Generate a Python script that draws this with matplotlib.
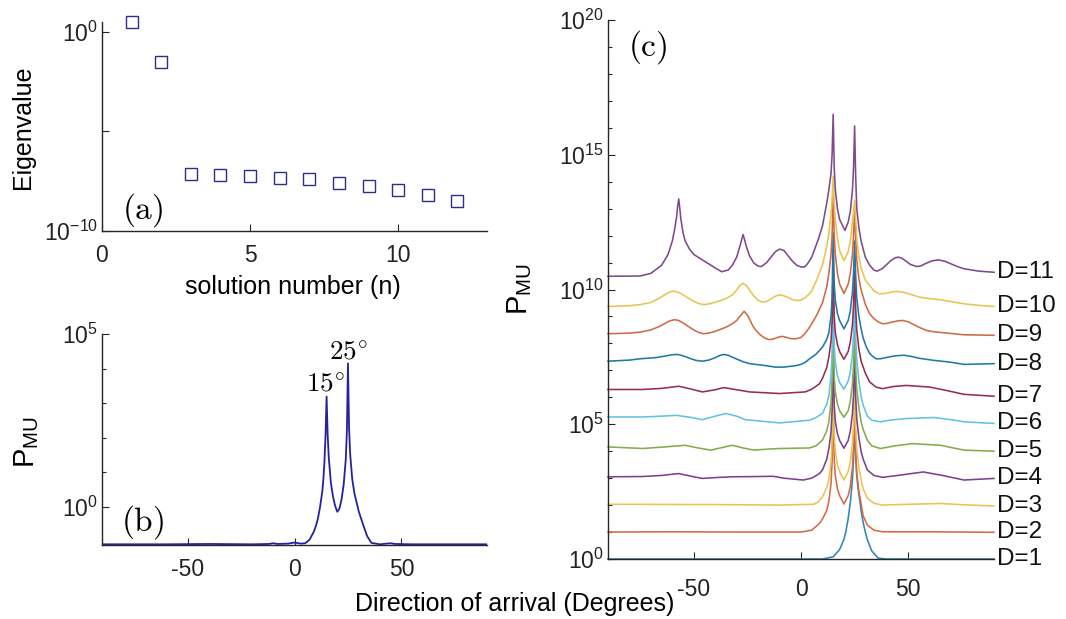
import numpy as np
import matplotlib
matplotlib.use("Agg")
import matplotlib.pyplot as plt
from matplotlib.ticker import FixedLocator, NullFormatter

plt.rcParams['font.family'] = ['Liberation Sans', 'DejaVu Sans']
plt.rcParams['mathtext.fontset'] = 'custom'
plt.rcParams['mathtext.rm'] = 'Liberation Sans'
plt.rcParams['mathtext.it'] = 'Liberation Sans:italic'
plt.rcParams['mathtext.bf'] = 'Liberation Sans:bold'

W, H = 1066, 619
FS = 16.5      # tick labels
FL = 18        # axis labels

# ---------------- data ----------------
# (a) eigenvalues
sol_n = [1, 2, 3, 4, 5, 6, 7, 8, 9, 10, 11, 12]
eig_vals = [3.2, 3.2e-2, 7.4e-8, 6.6e-8, 6.0e-8, 4.5e-8, 4.0e-8, 2.7e-8, 1.8e-8, 1.15e-8, 6.5e-9, 3.2e-9]

# (b) MUSIC spectrum, log10(P_MU)
ang_b = [-90, -60, -40, -20, -12, -10, -8, -3, 0, 3, 5, 7, 9, 10, 11, 12, 13, 13.5, 14, 14.5,
         15, 15.5, 16, 17, 18, 19, 20, 21, 22, 23, 24, 24.5, 25, 25.5, 26, 27, 28, 30, 32, 34,
         36, 40, 43, 45, 47, 55, 70, 90]
logP_b = [-1.08, -1.08, -1.07, -1.08, -1.07, -1.05, -1.07, -1.06, -1.03, -1.06, -1.05, -0.95, -0.72, -0.55, -0.32, 0.02, 0.45, 0.8, 1.3, 2.05,
          3.19, 2.1, 1.45, 0.7, 0.3, 0.03, -0.14, -0.05, 0.22, 0.65, 1.4, 2.2, 4.15, 2.3, 1.55, 0.8, 0.4, -0.12, -0.5, -0.85,
          -1.04, -1.08, -1.06, -1.05, -1.07, -1.08, -1.08, -1.08]

# (c) spectra for D = 1..11, log10(P_MU)
ang_D1 = [-90, 0, 10, 15, 18, 20, 21, 22, 23, 23.5, 24, 24.5, 25, 25.5, 26, 26.5, 27, 28, 29, 30, 31, 33, 36, 40, 90]
logP_D1 = [0, 0, 0, 0.08, 0.35, 0.72, 1.05, 1.5, 2.1, 2.5, 3.0, 3.7, 5.5, 3.8, 3.1, 2.7, 2.4, 1.8, 1.35, 1.0, 0.7, 0.3, 0.03, 0, 0]

ang_D2 = [-90, -60, -30, 0, 5, 8.6, 10, 12, 13, 14, 14.5, 15, 15.5, 16, 17, 18, 20, 22, 23, 24, 24.5, 25, 25.5, 26, 27, 28, 29, 31, 34, 38, 60, 90]
logP_D2 = [1.0, 1.01, 1.0, 1.0, 1.07, 1.32, 1.48, 1.8, 2.15, 2.8, 3.6, 5.8, 3.7, 3.1, 2.6, 2.35, 2.04, 2.35, 2.7, 3.4, 4.1, 5.6, 4.0, 3.2, 2.5, 2.05, 1.6, 1.25, 1.07, 1.01, 1.01, 0.99]

ang_D3 = [-90, -40, -10, 6, 8, 10, 12, 13, 14, 14.5, 15, 15.5, 16, 17, 18, 20, 22, 23, 24, 24.5, 25, 25.5, 26, 27, 28, 29, 31, 34, 38, 50, 65, 76, 90]
logP_D3 = [2.03, 2.02, 2.0, 2.03, 2.12, 2.3, 2.65, 2.95, 3.6, 4.4, 6.8, 4.6, 4.0, 3.5, 3.25, 2.93, 3.25, 3.6, 4.3, 5.0, 6.6, 4.9, 4.1, 3.4, 2.95, 2.6, 2.25, 2.07, 2.0, 2.03, 2.06, 2.01, 1.97]

ang_D4 = [-90, -74, -65, -57, -50, -46, -38, -32, -20, -13, -8, 1, 5, 8.6, 10, 12, 13, 14, 14.5, 15, 15.5, 16, 17, 18, 20, 22, 23, 24, 24.5, 25, 25.5, 26, 27, 28, 29, 31, 34, 38, 47, 57, 66, 76, 90]
logP_D4 = [3.05, 3.06, 3.1, 3.17, 3.05, 2.99, 3.03, 3.05, 3.06, 3.07, 3.0, 2.93, 3.0, 3.17, 3.3, 3.7, 4.1, 4.7, 5.5, 7.8, 5.7, 5.1, 4.65, 4.4, 4.11, 4.4, 4.75, 5.4, 6.1, 7.6, 6.0, 5.2, 4.5, 4.0, 3.7, 3.3, 3.1, 3.03, 3.12, 3.23, 3.1, 2.93, 2.99]

ang_D5 = [-90, -74, -65, -54, -48, -42, -36, -32, -27, -22, -15, -10, 4, 7, 10, 12, 13, 14, 14.5, 15, 15.5, 16, 17, 18, 20, 22, 23, 24, 24.5, 25, 25.5, 26, 27, 28, 29, 31, 33, 37, 44, 52, 65, 76, 90]
logP_D5 = [4.16, 4.1, 4.15, 4.22, 4.12, 4.04, 4.15, 4.22, 4.12, 4.04, 4.08, 4.1, 4.12, 4.2, 4.41, 4.75, 5.1, 5.8, 6.6, 8.8, 6.8, 6.2, 5.75, 5.5, 5.26, 5.5, 5.85, 6.5, 7.2, 8.7, 7.1, 6.3, 5.6, 5.1, 4.8, 4.4, 4.2, 4.1, 4.2, 4.28, 4.22, 4.04, 4.0]

ang_D6 = [-90, -74, -65, -58, -51, -46, -40, -35, -30, -26, -10, 4, 7, 10, 12, 13, 14, 14.5, 15, 15.5, 16, 17, 18, 20, 22, 23, 24, 24.5, 25, 25.5, 26, 27, 28, 29, 31, 33, 37, 42, 49, 62, 70, 76, 90]
logP_D6 = [5.27, 5.27, 5.3, 5.33, 5.25, 5.17, 5.3, 5.4, 5.3, 5.17, 5.05, 5.15, 5.25, 5.4, 5.75, 6.05, 6.8, 7.6, 9.8, 7.9, 7.3, 6.8, 6.55, 6.3, 6.6, 6.95, 7.6, 8.3, 9.7, 8.2, 7.4, 6.6, 6.05, 5.7, 5.3, 5.15, 5.09, 5.16, 5.21, 5.25, 5.17, 5.09, 5.03]

ang_D7 = [-90, -74, -65, -57, -51, -46, -40, -36, -30, -24, -10, 2, 5, 8.6, 10, 12, 13, 14, 14.5, 15, 15.5, 16, 17, 18, 20, 22, 23, 24, 24.5, 25, 25.5, 26, 27, 28, 30, 32, 35, 38, 43, 49, 60, 68, 76, 90]
logP_D7 = [6.29, 6.29, 6.33, 6.41, 6.3, 6.2, 6.28, 6.36, 6.28, 6.2, 6.14, 6.2, 6.3, 6.5, 6.7, 7.1, 7.5, 8.1, 8.8, 11.0, 9.0, 8.4, 7.95, 7.7, 7.41, 7.7, 8.05, 8.7, 9.4, 10.7, 9.3, 8.5, 7.8, 7.35, 6.9, 6.57, 6.38, 6.32, 6.4, 6.44, 6.38, 6.25, 6.11, 6.04]

ang_D8 = [-90, -80, -75, -68, -64, -60, -57.5, -55, -52, -49, -46, -43, -40, -38, -36, -34, -32, -30, -27, -24,
          -20, -16, -12, -8, -5, -2, 0, 2, 4, 7, 10, 12, 13, 14, 14.5, 15, 15.5, 16, 17, 18,
          20, 22, 23, 24, 24.5, 25, 25.5, 26, 27, 28, 29, 30.5, 32, 33, 35, 37, 40, 44, 48, 52,
          55, 62, 70, 76, 90]
logP_D8 = [7.34, 7.38, 7.43, 7.47, 7.52, 7.58, 7.59, 7.54, 7.45, 7.37, 7.34, 7.38, 7.47, 7.55, 7.59, 7.56, 7.49, 7.42, 7.32, 7.25,
           7.21, 7.17, 7.12, 7.12, 7.15, 7.18, 7.22, 7.3, 7.43, 7.6, 7.86, 8.15, 8.4, 9.0, 9.7, 12.1, 10.2, 9.6, 9.1, 8.85,
           8.54, 8.85, 9.2, 9.9, 10.6, 11.8, 10.5, 9.7, 9.0, 8.55, 8.2, 7.86, 7.63, 7.55, 7.43, 7.43, 7.48, 7.54, 7.56, 7.51,
           7.45, 7.37, 7.3, 7.22, 7.25]

ang_D9 = [-90, -80, -75, -70, -66, -63, -61, -59, -57, -55, -52, -50, -47.5, -45.5, -43, -40, -37, -35, -32, -30,
          -28, -26.5, -25, -24, -22.5, -21, -19, -17, -15, -13, -11, -9, -7, -5, -2.5, 0, 2, 4, 7, 10,
          12, 13, 14, 14.5, 15, 15.5, 16, 17, 18, 20, 22, 23, 24, 24.5, 25, 25.5, 26, 27, 28, 30,
          32, 34, 36, 38, 40, 43, 45.5, 47.5, 50, 52, 55, 58.5, 62, 66, 76, 90]
logP_D9 = [8.36, 8.38, 8.42, 8.5, 8.63, 8.76, 8.84, 8.88, 8.85, 8.76, 8.6, 8.5, 8.4, 8.36, 8.38, 8.45, 8.54, 8.6, 8.73, 8.85,
           9.05, 9.19, 9.05, 8.9, 8.65, 8.48, 8.32, 8.2, 8.14, 8.16, 8.22, 8.26, 8.23, 8.18, 8.17, 8.22, 8.38, 8.6, 9.0, 9.5,
           10.1, 10.6, 11.3, 12.0, 13.5, 12.0, 11.3, 10.6, 10.2, 9.85, 10.2, 10.6, 11.3, 12.0, 13.0, 11.9, 11.1, 10.4, 10.0, 9.45,
           9.1, 8.92, 8.8, 8.73, 8.74, 8.8, 8.84, 8.85, 8.8, 8.72, 8.6, 8.48, 8.43, 8.4, 8.32, 8.3]

ang_D10 = [-90, -80, -75, -70, -66, -63, -61, -59.5, -58, -56, -53, -50, -47, -45, -42, -38, -35, -32, -30, -28.5,
           -27, -25.5, -24, -22, -20, -18, -16, -14, -12, -10, -8, -6, -4, -2, 0, 2, 4, 5, 7, 10,
           12, 13, 14, 14.5, 15, 15.5, 16, 17, 18, 20, 22, 23, 24, 24.5, 25, 25.5, 26, 27, 28, 30,
           32, 34, 36.5, 39, 41, 43, 45, 47, 50, 55, 60, 65, 70, 76, 83, 90]
logP_D10 = [9.37, 9.4, 9.44, 9.52, 9.68, 9.83, 9.91, 9.94, 9.92, 9.85, 9.7, 9.56, 9.46, 9.44, 9.48, 9.58, 9.66, 9.8, 9.98, 10.15,
            10.23, 10.15, 9.98, 9.76, 9.6, 9.53, 9.56, 9.65, 9.75, 9.8, 9.77, 9.7, 9.62, 9.59, 9.61, 9.7, 9.85, 9.95, 10.3, 10.9,
            11.6, 12.1, 12.8, 13.4, 14.2, 13.2, 12.6, 11.9, 11.45, 11.07, 11.4, 11.8, 12.5, 12.9, 13.3, 12.6, 11.9, 11.2, 10.8, 10.35,
            10.15, 9.95, 9.84, 9.85, 9.88, 9.92, 9.93, 9.91, 9.85, 9.72, 9.66, 9.62, 9.55, 9.47, 9.41, 9.37]

ang_D11 = [-90, -75, -70, -65, -62, -60, -59, -58, -57.5, -57, -56.5, -56, -55, -54, -52, -50, -47, -44, -40, -37,
           -34, -32, -30, -28.5, -27.5, -27, -26.5, -25.5, -24, -22, -20, -18.5, -16, -14, -12, -10, -8, -6, -4, -2,
           0, 1.5, 3, 5, 8, 10, 12, 13, 14, 14.5, 15, 15.5, 16, 17, 18, 20.5, 22, 23, 24, 24.5,
           25, 25.5, 26, 27, 28, 30, 32, 34, 35.5, 38, 40, 42, 44, 45.5, 47, 49, 51, 54, 56, 58,
           61, 64, 67, 70, 73, 76, 83, 90]
logP_D11 = [10.49, 10.5, 10.6, 10.9, 11.3, 11.8, 12.2, 12.7, 13.1, 13.36, 13.0, 12.6, 12.1, 11.8, 11.5, 11.3, 11.15, 11.0, 10.8, 10.66,
            10.72, 10.9, 11.2, 11.6, 11.9, 12.04, 11.9, 11.6, 11.25, 10.98, 10.87, 10.85, 11.0, 11.2, 11.4, 11.5, 11.45, 11.25, 11.05, 10.9,
            10.84, 10.83, 10.95, 11.2, 11.85, 12.35, 13.2, 13.7, 14.3, 15.0, 16.5, 14.5, 13.7, 13.0, 12.6, 12.19, 12.5, 12.9, 13.7, 14.5,
            16.07, 14.2, 13.0, 12.3, 11.8, 11.2, 10.9, 10.72, 10.68, 10.78, 10.93, 11.08, 11.18, 11.2, 11.16, 11.05, 10.93, 10.85, 10.88, 10.96,
            11.06, 11.1, 11.05, 10.95, 10.85, 10.77, 10.68, 10.64]

curve_labels = ["D=1", "D=2", "D=3", "D=4", "D=5", "D=6", "D=7", "D=8", "D=9", "D=10", "D=11"]
curves_ang = [ang_D1, ang_D2, ang_D3, ang_D4, ang_D5, ang_D6, ang_D7, ang_D8, ang_D9, ang_D10, ang_D11]
curves_log = [logP_D1, logP_D2, logP_D3, logP_D4, logP_D5, logP_D6, logP_D7, logP_D8, logP_D9, logP_D10, logP_D11]
curve_colors = ['#2f86b8', '#d66a45', '#e8c450', '#7e3f8e', '#83ad4a', '#63c1e6', '#9a2c52',
                '#1f78a8', '#d06a45', '#e8c450', '#7e4a8e']


def fx(px):
    return px / W


def fy(py):
    return 1 - py / H


fig = plt.figure(figsize=(W / 100, H / 100), dpi=100)
AXC = '#262626'


def style(ax):
    for s in ['top', 'right']:
        ax.spines[s].set_visible(False)
    for s in ['left', 'bottom']:
        ax.spines[s].set_color(AXC)
        ax.spines[s].set_linewidth(1.0)
    ax.tick_params(which='both', direction='in', colors=AXC, labelsize=FS,
                   labelcolor='#222222')
    ax.tick_params(which='major', length=5, width=0.8)
    ax.tick_params(which='minor', length=3, width=0.8)
    ax.patch.set_alpha(0)


# ---------------- (a) ----------------
axa = fig.add_axes([fx(102), fy(231), fx(487) - fx(102), fy(22) - fy(231)])
style(axa)
axa.semilogy(sol_n, eig_vals, linestyle='none', marker='s', markersize=9,
             markerfacecolor='none', markeredgecolor='#2d2d8c', markeredgewidth=1.0,
             clip_on=False)
axa.set_xlim(0, 13)
axa.set_ylim(1e-10, 10 ** 0.5)
axa.xaxis.set_major_locator(FixedLocator([0, 5, 10]))
axa.set_xticklabels(['0', '5', '10'])
axa.yaxis.set_major_locator(FixedLocator([1e-10, 1e-5, 1e0]))
axa.set_yticklabels([r'$10^{-10}$', '', r'$10^{0}$'])
axa.yaxis.set_minor_locator(FixedLocator([]))
axa.yaxis.set_minor_formatter(NullFormatter())
axa.tick_params(axis='x', pad=9)
axa.tick_params(axis='y', pad=3)
fig.text(fx(293), fy(287), 'solution number (n)', ha='center', va='center', fontsize=FL)
fig.text(fx(23), fy(127), 'Eigenvalue', ha='center', va='center', rotation=90, fontsize=FL)
fig.text(fx(143), fy(210), r'$(\mathrm{a})$', ha='center', va='center', fontsize=24,
         math_fontfamily='cm')

# ---------------- (b) ----------------
axb = fig.add_axes([fx(102), fy(545), fx(487) - fx(102), fy(334) - fy(545)])
style(axb)
axb.semilogy(ang_b, 10 ** np.array(logP_b), color='#2323a0', lw=1.3)
axb.set_xlim(-90, 90)
axb.set_ylim(10 ** -1.1, 1e5)
axb.xaxis.set_major_locator(FixedLocator([-50, 0, 50]))
axb.set_xticklabels(['-50', '0', '50'])
axb.yaxis.set_major_locator(FixedLocator([1e0, 1e5]))
axb.set_yticklabels([r'$10^{0}$', r'$10^{5}$'])
axb.yaxis.set_minor_locator(FixedLocator([1e1, 1e2, 1e3, 1e4]))
axb.yaxis.set_minor_formatter(NullFormatter())
axb.tick_params(axis='x', pad=9)
axb.tick_params(axis='y', pad=3)
fig.text(fx(27), fy(442), r'$\mathrm{P}_{\mathrm{MU}}$', ha='center', va='center', rotation=90,
         fontsize=21)
fig.text(fx(143), fy(522), r'$(\mathrm{b})$', ha='center', va='center', fontsize=24,
         math_fontfamily='cm')
fig.text(fx(325), fy(385), r'$15^{\circ}$', ha='center', va='center', fontsize=19.5,
         math_fontfamily='cm')
fig.text(fx(348), fy(353), r'$25^{\circ}$', ha='center', va='center', fontsize=19.5,
         math_fontfamily='cm')

# ---------------- (c) ----------------
axc = fig.add_axes([fx(608), fy(559), fx(994) - fx(608), fy(20) - fy(559)])
style(axc)
for angs, logs, col in zip(curves_ang, curves_log, curve_colors):
    axc.semilogy(angs, 10 ** np.array(logs), color=col, lw=1.15, clip_on=False,
                 solid_joinstyle='round')
for logs, lab in zip(curves_log, curve_labels):
    axc.text(91.5, 10 ** logs[-1], lab, ha='left', va='center', fontsize=17.5,
             color='#111111', clip_on=False)
axc.set_xlim(-90, 90)
axc.set_ylim(1e0, 1e20)
axc.xaxis.set_major_locator(FixedLocator([-50, 0, 50]))
axc.set_xticklabels(['-50', '0', '50'])
axc.yaxis.set_major_locator(FixedLocator([1e0, 1e5, 1e10, 1e15, 1e20]))
axc.set_yticklabels([r'$10^{0}$', r'$10^{5}$', r'$10^{10}$', r'$10^{15}$', r'$10^{20}$'])
axc.yaxis.set_minor_locator(FixedLocator([10.0 ** k for k in range(1, 20) if k % 5]))
axc.yaxis.set_minor_formatter(NullFormatter())
axc.tick_params(axis='x', pad=14)
axc.tick_params(axis='y', pad=3)
fig.text(fx(520), fy(289), r'$\mathrm{P}_{\mathrm{MU}}$', ha='center', va='center', rotation=90,
         fontsize=21)
fig.text(fx(648), fy(47), r'$(\mathrm{c})$', ha='center', va='center', fontsize=24,
         math_fontfamily='cm')

fig.text(fx(515), fy(604), 'Direction of arrival (Degrees)', ha='center', va='center',
         fontsize=FL)

fig.savefig('out.png', dpi=100)
